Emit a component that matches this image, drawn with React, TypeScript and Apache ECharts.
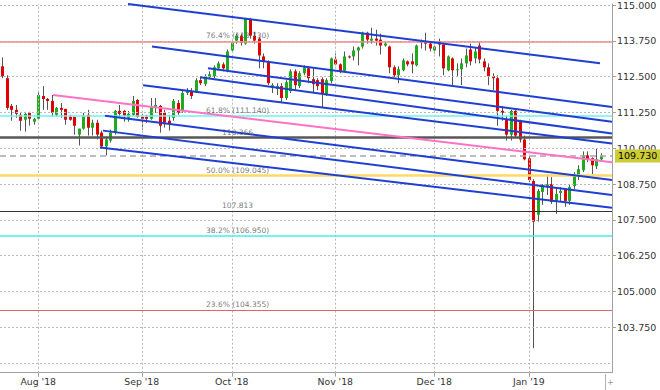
import React, { useEffect, useRef } from "react";
import * as echarts from "echarts";

// ---------- data ----------
const START_DATE = "2018-07-20";
const SLOT_COUNT = 136;

const OPEN = [112.859,112.445,111.478,111.340,111.167,110.995,111.236,110.926,111.029,111.823,111.720,111.651,111.167,111.409,111.374,111.098,111.098,110.476,110.684,111.167,110.718,110.891,110.545,110.062,110.269,110.545,111.305,111.305,111.064,111.167,111.685,111.098,111.098,111.029,111.409,111.478,111.236,110.960,111.064,111.581,111.305,111.927,111.996,111.996,112.376,112.238,112.479,112.514,112.790,112.928,112.721,113.412,113.757,113.930,113.653,114.517,113.930,113.826,113.204,112.997,112.100,112.065,112.169,111.754,111.996,112.686,112.169,112.617,112.790,112.410,112.376,112.410,111.892,112.341,113.101,112.928,112.686,113.204,113.204,113.412,113.550,114.033,113.757,113.826,113.791,113.584,113.550,112.825,112.548,112.721,113.032,113.032,112.894,113.757,113.722,113.653,113.412,113.722,113.619,112.721,113.135,112.721,112.756,112.963,113.446,113.135,113.584,113.032,112.825,112.514,112.445,111.305,110.995,110.476,111.305,110.960,110.304,109.648,108.854,107.680,108.474,108.681,108.750,108.163,108.439,108.543,108.163,108.681,109.061,109.234,109.751,109.648,109.372,109.613];
const CLOSE = [112.514,111.409,111.340,111.202,110.960,111.202,111.029,111.029,111.858,111.720,111.651,111.236,111.409,111.340,110.995,110.995,110.787,110.684,111.133,110.718,110.891,110.476,110.062,110.304,110.545,111.305,111.202,111.133,111.202,111.651,111.098,111.029,111.029,111.443,111.512,110.787,110.891,110.856,111.651,111.236,111.927,111.996,111.823,112.376,112.272,112.514,112.583,112.825,112.963,112.790,113.377,113.688,113.930,113.688,114.517,113.930,113.757,113.239,113.032,112.272,112.203,112.169,111.754,112.307,112.686,112.203,112.617,112.825,112.445,112.238,112.169,111.892,112.376,113.135,112.928,112.686,113.204,113.170,113.412,113.515,114.033,113.791,113.826,113.757,113.584,113.653,112.825,112.548,112.756,113.066,112.928,112.928,113.584,113.688,113.653,113.481,113.550,113.619,112.790,113.204,112.721,112.756,112.963,113.239,113.032,113.377,113.101,112.825,112.514,112.445,111.305,111.236,110.476,111.305,110.442,110.304,109.613,108.888,107.438,108.509,108.715,108.750,108.129,108.405,108.509,108.163,108.647,109.061,109.268,109.751,109.613,109.406,109.613,109.730];
const LOW = [112.445,111.340,110.960,111.064,110.615,110.580,110.787,110.822,110.995,111.340,111.340,111.098,111.098,111.064,110.822,110.960,110.476,110.097,110.649,110.442,110.442,110.304,109.993,109.751,110.200,110.476,111.064,110.926,110.926,111.133,111.064,110.649,110.891,110.995,111.236,110.545,110.718,110.615,110.960,111.167,111.236,111.858,111.720,111.927,112.203,112.169,112.410,112.445,112.721,112.686,112.652,113.342,113.653,113.584,113.619,113.826,113.653,112.790,112.790,112.203,111.927,111.858,111.581,111.685,111.927,111.996,112.100,112.548,112.272,111.927,112.030,111.409,111.823,112.272,112.894,112.617,112.652,113.135,113.066,112.894,113.481,113.653,113.653,113.584,113.273,113.550,112.617,112.479,112.272,112.686,112.859,112.617,112.859,113.481,113.412,113.377,113.308,113.204,112.548,112.686,112.203,112.514,112.203,112.825,112.894,112.963,112.963,112.686,112.203,112.030,110.787,110.960,110.269,110.269,110.373,110.200,109.579,108.819,103.018,107.438,108.025,108.370,108.060,107.714,108.129,107.956,108.025,108.578,108.888,109.164,109.510,109.095,109.268,109.579];
const HIGH = [113.170,112.548,111.547,111.512,111.236,111.271,111.271,111.064,111.961,112.169,111.754,111.858,111.443,111.581,111.374,111.167,111.098,110.684,111.236,111.340,110.995,110.995,110.615,110.407,110.649,111.340,111.512,111.340,111.305,111.823,111.720,111.202,111.167,111.754,111.754,111.512,111.340,111.167,111.720,111.685,111.996,112.100,112.100,112.445,112.479,112.583,112.686,112.894,113.032,112.997,113.446,113.757,113.999,113.999,114.551,114.551,114.068,113.895,113.308,113.066,112.272,112.272,112.272,112.376,112.756,112.756,112.686,112.894,112.859,112.790,112.445,112.479,112.445,113.170,113.308,112.963,113.377,113.239,113.550,113.550,114.068,114.068,114.206,114.137,113.999,113.722,113.584,112.894,112.859,113.135,113.066,113.308,113.619,113.791,114.033,113.722,113.584,113.826,113.653,113.239,113.170,112.963,113.135,113.481,113.653,113.515,113.722,113.135,112.963,112.617,112.548,111.478,111.133,111.340,111.340,110.995,110.442,109.751,108.923,108.578,108.750,109.095,108.992,108.578,108.647,108.578,108.715,109.164,109.406,109.890,109.890,109.682,109.993,109.821];

const Y_MIN = 102.165;
const Y_MAX = 115.035;
const AXIS_LABELS = [103.75, 105, 106.25, 107.5, 108.75, 110, 111.25, 112.5, 113.75, 115];
const GRID_LEVELS = [102.5, 103.75, 105, 106.25, 107.5, 108.75, 110, 111.25, 112.5, 113.75, 115];

const LEVEL_VALUES = [113.73, 111.14, 110.366, 109.045, 107.813, 106.95, 104.355];
const LEVEL_TEXTS = ["76.4% (113.730)", "61.8% (111.140)", "110.366", "50.0% (109.045)", "107.813", "38.2% (106.950)", "23.6% (104.355)"];
const LEVEL_LABEL_AT = 52.3;
const LAST_PRICE = 109.73;

// trend lines: [startIndex, startPrice, endIndex, endPrice]
const CHANNEL_LINES = [
  [27.94, 115.035, 132.83, 112.963],
  [33.28, 113.55, 135.5, 111.443],
  [45.72, 112.79, 135.5, 110.926],
  [43.94, 112.479, 135.5, 110.511],
  [31.3, 112.2, 135.5, 110.166],
  [22.83, 111.133, 135.5, 108.888],
  [22.39, 110.615, 135.5, 108.37],
  [21.72, 110.028, 135.5, 107.921],
];
const PINK_LINE = [11.28, 111.858, 135.5, 109.51];

const MONTHS = ["Jan", "Feb", "Mar", "Apr", "May", "Jun", "Jul", "Aug", "Sep", "Oct", "Nov", "Dec"];

// ---------- helpers ----------
function tradingDays(start: string, n: number): string[] {
  const out: string[] = [];
  const d = new Date(start + "T00:00:00Z");
  while (out.length < n) {
    const wd = d.getUTCDay();
    if (wd !== 0 && wd !== 6) out.push(d.toISOString().slice(0, 10));
    d.setUTCDate(d.getUTCDate() + 1);
  }
  return out;
}

const DATES = tradingDays(START_DATE, SLOT_COUNT);
const MONTH_STARTS: number[] = DATES.map((d, i) => (i > 0 && d.slice(5, 7) !== DATES[i - 1].slice(5, 7) ? i : -1)).filter((i) => i >= 0);
const isMonthStart = (i: number) => MONTH_STARTS.indexOf(i) >= 0;

const FONT = "DejaVu Sans";
const UP = "#1faa1f";
const DOWN = "#e00000";

const LEVEL_STYLES = [
  { color: "#ee8c8c", width: 1.5 },
  { color: "#6cf2f2", width: 1.5 },
  { color: "#575757", width: 2.5 },
  { color: "#ffd966", width: 2.5 },
  { color: "#333333", width: 1 },
  { color: "#3ff0f0", width: 1.5 },
  { color: "#e06464", width: 1.2 },
];

export default function App() {
  const ref = useRef<HTMLDivElement>(null);

  useEffect(() => {
    if (!ref.current) return;
    const chart = echarts.init(ref.current, undefined, { renderer: "svg" });

    const candleData = OPEN.map((o, i) => [i, o, CLOSE[i], LOW[i], HIGH[i]]);

    const trendSeries = CHANNEL_LINES.map((l) => ({
      type: "line",
      xAxisIndex: 1,
      data: [[l[0], l[1]], [l[2], l[3]]],
      symbol: "none",
      silent: true,
      z: 6,
      lineStyle: { color: "#1e3fd2", width: 2 },
    }));

    const option: any = {
      animation: false,
      textStyle: { fontFamily: FONT },
      grid: { left: 0, top: 0, right: 48, bottom: 17.3, containLabel: false },
      xAxis: [
        {
          type: "category",
          data: DATES,
          boundaryGap: true,
          axisLine: { show: true, onZero: false, lineStyle: { color: "#a0a0a0", width: 1 } },
          axisTick: {
            show: true,
            alignWithLabel: true,
            length: 4,
            interval: (i: number) => isMonthStart(i),
            lineStyle: { color: "#a0a0a0" },
          },
          axisLabel: {
            interval: (i: number) => isMonthStart(i),
            formatter: (v: string) => `${MONTHS[Number(v.slice(5, 7)) - 1]} '${v.slice(2, 4)}`,
            color: "#333",
            fontSize: 9.3,
            fontFamily: FONT,
            margin: 4,
          },
          splitLine: { show: false },
        },
        { type: "value", min: -0.5, max: SLOT_COUNT - 0.5, show: false, axisLine: { onZero: false } },
      ],
      yAxis: {
        type: "value",
        position: "right",
        min: Y_MIN,
        max: Y_MAX,
        axisLine: { show: true, onZero: false, lineStyle: { color: "#a0a0a0", width: 1 } },
        axisTick: { show: true, length: 4, customValues: AXIS_LABELS, lineStyle: { color: "#a0a0a0" } },
        axisLabel: {
          customValues: AXIS_LABELS,
          formatter: (v: number) => v.toFixed(3),
          color: "#333",
          fontSize: 9.5,
          fontFamily: FONT,
          margin: 5,
        },
        splitLine: { show: false },
      },
      graphic: [
        { type: "line", shape: { x1: 605.5, y1: 374, x2: 605.5, y2: 390 }, style: { stroke: "#b0b0b0", lineWidth: 1 } },
        { type: "text", x: 607, y: 378, style: { text: "+", fill: "#999", fontSize: 8, fontFamily: FONT } },
      ],
      series: [
        {
          name: "grid",
          type: "line",
          xAxisIndex: 1,
          data: [[0, 110]],
          symbol: "none",
          silent: true,
          lineStyle: { opacity: 0 },
          z: 1,
          markLine: {
            silent: true,
            symbol: ["none", "none"],
            label: { show: false },
            lineStyle: { color: "#b8b8b8", type: [2, 2], width: 1 },
            data: [
              ...GRID_LEVELS.map((v) => ({ yAxis: v })),
              ...MONTH_STARTS.map((i) => ({ xAxis: i })),
            ],
          },
        },
        {
          name: "levels",
          type: "line",
          xAxisIndex: 1,
          data: [[0, 110]],
          symbol: "none",
          silent: true,
          lineStyle: { opacity: 0 },
          z: 2,
          markLine: {
            silent: true,
            symbol: ["none", "none"],
            label: { show: false },
            data: [
              ...LEVEL_VALUES.map((v, i) => ({
                yAxis: v,
                lineStyle: { color: LEVEL_STYLES[i].color, width: LEVEL_STYLES[i].width, type: "solid" },
              })),
              {
                yAxis: LAST_PRICE,
                lineStyle: { color: "#a8a8a8", width: 1.5, type: [6, 4] },
                label: {
                  show: true,
                  position: "end",
                  distance: 3,
                  formatter: LAST_PRICE.toFixed(3),
                  backgroundColor: "#cccc33",
                  color: "#000",
                  fontSize: 9.5,
                  fontFamily: FONT,
                  padding: [2, 3, 1, 3],
                },
              },
            ],
          },
        },
        {
          name: "candles",
          type: "custom",
          xAxisIndex: 1,
          data: candleData,
          encode: { x: 0, y: [1, 2, 3, 4] },
          z: 4,
          silent: true,
          renderItem: (_params: any, api: any) => {
            const x = api.value(0);
            const o = api.value(1);
            const c = api.value(2);
            const l = api.value(3);
            const h = api.value(4);
            const top = api.coord([x, Math.max(o, c)]);
            const bot = api.coord([x, Math.min(o, c)]);
            const pl = api.coord([x, l]);
            const ph = api.coord([x, h]);
            const cx = Math.round(top[0]) + 0.5;
            const up = c >= o;
            return {
              type: "group",
              children: [
                { type: "line", shape: { x1: cx, y1: ph[1], x2: cx, y2: pl[1] }, style: { stroke: "#555", lineWidth: 1 } },
                {
                  type: "rect",
                  shape: { x: cx - 1.5, y: top[1], width: 3, height: Math.max(1, bot[1] - top[1]) },
                  style: { fill: up ? UP : DOWN },
                },
              ],
            };
          },
        },
        ...trendSeries,
        {
          name: "pink",
          type: "line",
          xAxisIndex: 1,
          data: [[PINK_LINE[0], PINK_LINE[1]], [PINK_LINE[2], PINK_LINE[3]]],
          symbol: "none",
          silent: true,
          z: 5,
          lineStyle: { color: "#ff72c6", width: 2 },
        },
        {
          name: "levelLabels",
          type: "scatter",
          xAxisIndex: 1,
          data: LEVEL_VALUES.map((v) => [LEVEL_LABEL_AT, v]),
          symbolSize: 1,
          silent: true,
          z: 7,
          itemStyle: { color: "rgba(0,0,0,0)" },
          label: {
            show: true,
            position: "top",
            distance: 1,
            formatter: (p: any) => LEVEL_TEXTS[p.dataIndex],
            color: "#555",
            fontSize: 7.5,
            fontFamily: FONT,
          },
        },
      ],
    };

    chart.setOption(option);
    return () => chart.dispose();
  }, []);

  return <div ref={ref} style={{ position: "fixed", left: 0, top: 0, width: 660, height: 390, background: "#fff" }} />;
}
